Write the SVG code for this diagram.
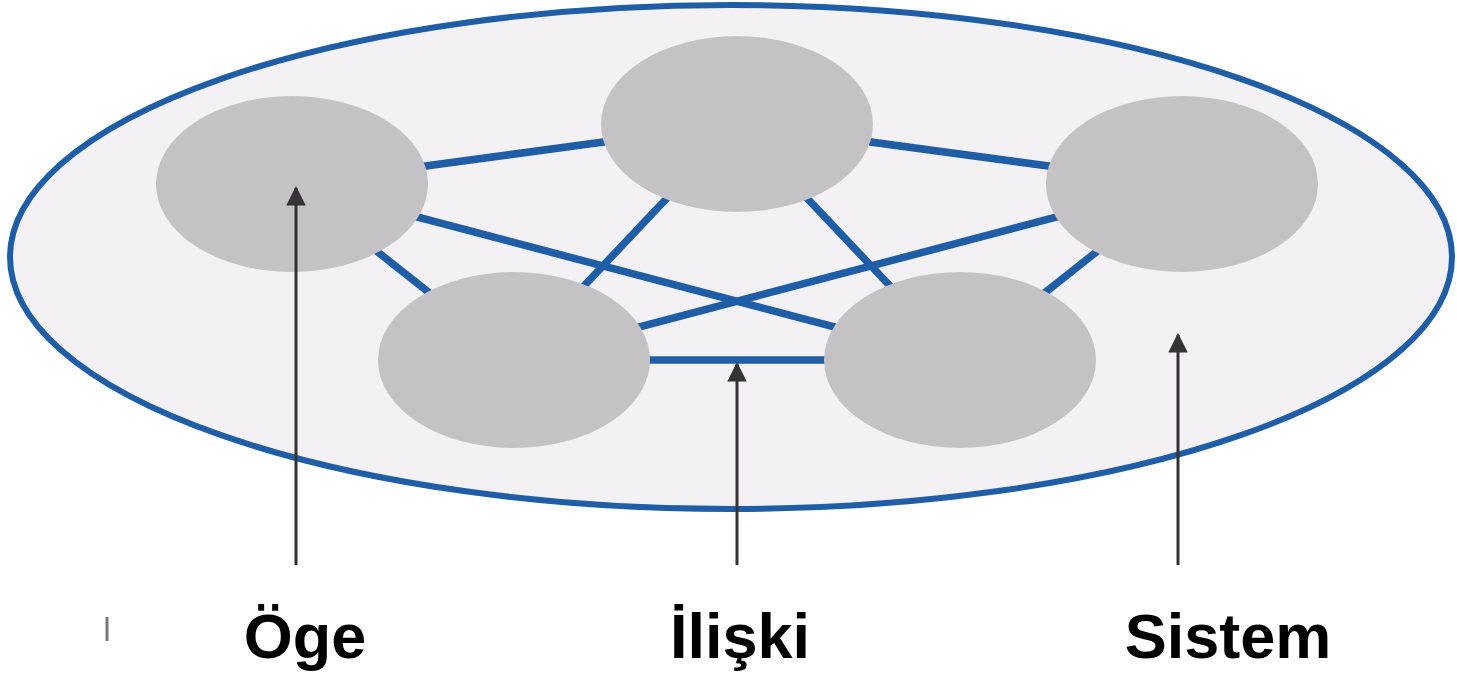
<svg xmlns="http://www.w3.org/2000/svg" width="1457" height="678" viewBox="0 0 1457 678">
  <style>
    .system { fill: #f3f1f3; stroke: #1f5ea6; stroke-width: 6; }
    .element { fill: #c5c2c5; }
    .link { stroke: #1f5ea6; stroke-width: 7.5; stroke-linecap: butt; }
    .pointer { stroke: #333333; stroke-width: 3; fill: none; }
    .label { font-family: "Liberation Sans", Arial, sans-serif; font-weight: bold; font-size: 63px; fill: #000000; text-anchor: middle; }
  </style>
  <defs>
    <marker id="tip" viewBox="0 0 10 10" refX="9" refY="5" markerWidth="6.5" markerHeight="6.5" orient="auto" markerUnits="strokeWidth">
      <path d="M0,0 L10,5 L0,10 Z" fill="#333333"/>
    </marker>
  </defs>

  <!-- system boundary -->
  <g id="system">
    <ellipse class="system" cx="731" cy="257" rx="721" ry="252"/>
  </g>

  <!-- relations between elements -->
  <g id="connectors">
    <line class="link" x1="292" y1="184" x2="737" y2="124"/>
    <line class="link" x1="737" y1="124" x2="1182" y2="184"/>
    <line class="link" x1="292" y1="184" x2="514" y2="360"/>
    <line class="link" x1="1182" y1="184" x2="960" y2="360"/>
    <line class="link" x1="292" y1="184" x2="960" y2="360"/>
    <line class="link" x1="1182" y1="184" x2="514" y2="360"/>
    <line class="link" x1="737" y1="124" x2="514" y2="360"/>
    <line class="link" x1="737" y1="124" x2="960" y2="360"/>
    <line class="link" x1="514" y1="360" x2="960" y2="360"/>
  </g>

  <!-- elements -->
  <g id="element-1"><ellipse class="element" cx="292" cy="184" rx="136" ry="88"/></g>
  <g id="element-2"><ellipse class="element" cx="737" cy="124" rx="136" ry="88"/></g>
  <g id="element-3"><ellipse class="element" cx="1182" cy="184" rx="136" ry="88"/></g>
  <g id="element-4"><ellipse class="element" cx="514" cy="360" rx="136" ry="88"/></g>
  <g id="element-5"><ellipse class="element" cx="960" cy="360" rx="136" ry="88"/></g>

  <!-- pointers to labels -->
  <g id="pointers">
    <line class="pointer" x1="296" y1="565" x2="296" y2="188" marker-end="url(#tip)"/>
    <line class="pointer" x1="737" y1="565" x2="737" y2="364" marker-end="url(#tip)"/>
    <line class="pointer" x1="1178" y1="565" x2="1178" y2="335" marker-end="url(#tip)"/>
  </g>

  <!-- stray mark -->
  <line x1="107" y1="617" x2="107" y2="641" stroke="#7a7a7a" stroke-width="3"/>

  <g id="labels">
    <text class="label" x="305" y="658">Öge</text>
    <text class="label" x="740" y="658">İlişki</text>
    <text class="label" x="1228" y="658">Sistem</text>
  </g>
</svg>
